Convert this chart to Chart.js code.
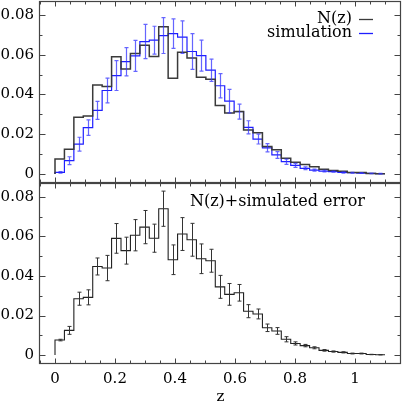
<!DOCTYPE html>
<html><head><meta charset="utf-8">
<script src="https://cdn.jsdelivr.net/npm/chart.js@4"></script>
<style>
html,body{margin:0;padding:0;background:#fff;}
#wrap{position:relative;width:403px;height:404px;overflow:hidden;}
canvas{position:absolute;left:0;}
#c1{top:0;} #c2{top:183px;}
</style></head><body>
<div id="wrap"><canvas id="c1" width="403" height="184"></canvas><canvas id="c2" width="403" height="221"></canvas></div>
<script>
// ---- data ----
const zStart = 0, zEnd = 1.1, nBins = 35;
const nz = [0.0076,0.0125,0.0285,0.0292,0.0448,0.0440,0.0590,0.0528,0.0606,0.0647,
            0.0591,0.0740,0.0482,0.0612,0.0583,0.0487,0.0477,0.0345,0.0307,0.0315,
            0.0222,0.0208,0.0138,0.0122,0.0080,0.0059,0.0048,0.0037,0.0024,0.0018,
            0.0014,0.0008,0.0008,0.0003,0.0002];
const nzErr = [0.0004,0.0020,0.0033,0.0038,0.0043,0.0064,0.0075,0.0068,0.0079,0.0084,
               0.0071,0.0089,0.0075,0.0083,0.0083,0.0075,0.0058,0.0058,0.0055,0.0042,
               0.0033,0.0025,0.0019,0.0017,0.0013,0.0008,0.0006,0.0005,0.0004,0.0003,
               0.0003,0.0002,0.0002,0.0001,0.0001];
const sim = [0.0008,0.0067,0.0150,0.0233,0.0320,0.0420,0.0495,0.0565,0.0594,0.0666,
             0.0673,0.0696,0.0706,0.0688,0.0616,0.0595,0.0522,0.0444,0.0367,0.0314,
             0.0235,0.0176,0.0132,0.0096,0.0062,0.0044,0.0029,0.0020,0.0015,0.0012,
             0.0008,0.0007,0.0005,0.0003,0.0002];
const simErr = [0.0004,0.0020,0.0035,0.0039,0.0045,0.0062,0.0075,0.0071,0.0078,0.0086,
                0.0070,0.0090,0.0074,0.0082,0.0090,0.0078,0.0056,0.0061,0.0059,0.0038,
                0.0033,0.0025,0.0021,0.0017,0.0013,0.0010,0.0007,0.0005,0.0004,0.0003,
                0.0003,0.0002,0.0002,0.0001,0.0001];
const xTicks = [0,0.2,0.4,0.6,0.8,1];
const xTickLabels = ['0','0.2','0.4','0.6','0.8','1'];
const yTicks = [0,0.02,0.04,0.06,0.08];
const yTickLabels = ['0','0.02','0.04','0.06','0.08'];
const legendLabels = ['N(z)','simulation'];
const bottomLabel = 'N(z)+simulated error';
const xTitle = 'z';

// ---- settings ----
const X_MIN = -0.05, X_MAX = 1.1533, Y_MIN = -0.0045, Y_MAX = 0.087;
const X_MINOR = 0.05, Y_MINOR = 0.01;
const FONT = 'DejaVu Serif';
const BLACK_LINE = '#3a3a3a';
const BLUE_LINE = 'rgb(30,30,255)';
const BLUE_ERR = 'rgba(50,50,255,0.75)';

const binW = (zEnd - zStart) / nBins;
function stepPoints(vals) {
  const pts = [{x: zStart, y: 0}];
  vals.forEach((v, i) => pts.push({x: zStart + i * binW, y: v}));
  pts.push({x: zEnd, y: vals[vals.length - 1]});
  return pts;
}

function errPlugin(id, vals, errs, color, width, cap) {
  return { id, afterDatasetsDraw(chart) {
    const {ctx, scales: {x, y}} = chart;
    ctx.save(); ctx.strokeStyle = color; ctx.lineWidth = width;
    vals.forEach((v, i) => {
      const e = errs[i];
      const px = Math.round(x.getPixelForValue(zStart + (i + 0.5) * binW)) + 0.5;
      const y1 = y.getPixelForValue(v - e), y2 = y.getPixelForValue(v + e);
      ctx.beginPath();
      ctx.moveTo(px, y1); ctx.lineTo(px, y2);
      ctx.moveTo(px - cap, y1); ctx.lineTo(px + cap, y1);
      ctx.moveTo(px - cap, y2); ctx.lineTo(px + cap, y2);
      ctx.stroke();
    });
    ctx.restore();
  }};
}

const framePlugin = { id: 'frame', afterDraw(chart) {
  const {ctx, chartArea: a, scales: {x, y}} = chart;
  ctx.save();
  ctx.strokeStyle = '#444'; ctx.lineWidth = 1.2;
  const L = a.left - 0.5, R = a.right - 0.5, T = a.top + 0.5, B = a.bottom - 0.5;
  ctx.strokeRect(L, T, R - L, B - T);
  ctx.lineWidth = 1;
  ctx.beginPath();
  const isMajor = (v, arr) => arr.some(t => Math.abs(t - v) < 1e-6);
  for (let k = Math.ceil(X_MIN / X_MINOR); k * X_MINOR <= X_MAX + 1e-9; k++) {
    const v = k * X_MINOR;
    const px = Math.round(x.getPixelForValue(v)) + 0.5;
    const len = isMajor(v, xTicks) ? 5 : 3;
    ctx.moveTo(px, T); ctx.lineTo(px, T + len);
    ctx.moveTo(px, B); ctx.lineTo(px, B - len);
  }
  for (let k = Math.ceil(Y_MIN / Y_MINOR); k * Y_MINOR <= Y_MAX + 1e-9; k++) {
    const v = k * Y_MINOR;
    const py = Math.round(y.getPixelForValue(v)) + 0.5;
    const len = isMajor(v, yTicks) ? 6 : 3;
    ctx.moveTo(L, py); ctx.lineTo(L + len, py);
    ctx.moveTo(R, py); ctx.lineTo(R - len, py);
  }
  ctx.stroke();
  ctx.restore();
}};

const legendPlugin = { id: 'leg', afterDraw(chart) {
  const {ctx} = chart;
  ctx.save();
  ctx.font = '16px "' + FONT + '"';
  ctx.fillStyle = '#000'; ctx.textAlign = 'right'; ctx.textBaseline = 'middle';
  const rows = [[legendLabels[0], 19, BLACK_LINE], [legendLabels[1], 33, BLUE_LINE]];
  rows.forEach(([t, yy, c]) => {
    ctx.fillText(t, 352, yy);
    ctx.strokeStyle = c; ctx.lineWidth = 1.3;
    ctx.beginPath(); ctx.moveTo(359, yy + 0.5); ctx.lineTo(373, yy + 0.5); ctx.stroke();
  });
  ctx.restore();
}};

const labelPlugin = { id: 'lab', afterDraw(chart) {
  const {ctx} = chart;
  ctx.save();
  ctx.font = '16px "' + FONT + '"';
  ctx.fillStyle = '#000'; ctx.textAlign = 'right'; ctx.textBaseline = 'middle';
  ctx.fillText(bottomLabel, 365, 19);
  ctx.restore();
}};

function yScale() {
  return {
    type: 'linear', min: Y_MIN, max: Y_MAX,
    afterFit: s => { s.width = 40; s.paddingTop = 0; s.paddingBottom = 0; },
    afterBuildTicks: s => { s.ticks = yTicks.map(v => ({value: v})); },
    grid: {display: false, drawTicks: false},
    border: {display: false},
    ticks: {padding: 6, color: '#000', font: {family: FONT, size: 15},
            callback: (v, i) => yTickLabels[i]}
  };
}

new Chart(document.getElementById('c1'), {
  type: 'line',
  data: {datasets: [
    {data: stepPoints(nz), stepped: 'before', borderColor: BLACK_LINE, borderWidth: 1.5, pointRadius: 0, fill: false},
    {data: stepPoints(sim), stepped: 'before', borderColor: BLUE_LINE, borderWidth: 1.2, pointRadius: 0, fill: false}
  ]},
  options: {
    responsive: false, animation: false, events: [],
    layout: {padding: {left: 0, right: 2, top: 1, bottom: 0}},
    plugins: {legend: {display: false}, tooltip: {enabled: false}},
    scales: {
      x: {type: 'linear', min: X_MIN, max: X_MAX,
          afterFit: s => { s.height = 1; s.paddingLeft = 0; s.paddingRight = 0; },
          grid: {display: false, drawTicks: false}, border: {display: false}, ticks: {display: false}},
      y: yScale()
    }
  },
  plugins: [errPlugin('e1', sim, simErr, BLUE_ERR, 1.2, 2), framePlugin, legendPlugin]
});

new Chart(document.getElementById('c2'), {
  type: 'line',
  data: {datasets: [
    {data: stepPoints(nz), stepped: 'before', borderColor: '#222', borderWidth: 1.1, pointRadius: 0, fill: false}
  ]},
  options: {
    responsive: false, animation: false, events: [],
    layout: {padding: {left: 0, right: 2, top: 0, bottom: 0}},
    plugins: {legend: {display: false}, tooltip: {enabled: false}},
    scales: {
      x: {type: 'linear', min: X_MIN, max: X_MAX,
          afterFit: s => { s.height = 40; s.paddingLeft = 0; s.paddingRight = 0; },
          afterBuildTicks: s => { s.ticks = xTicks.map(v => ({value: v})); },
          grid: {display: false, drawTicks: false}, border: {display: false},
          ticks: {padding: 6, color: '#000', maxRotation: 0, font: {family: FONT, size: 15},
                  callback: (v, i) => xTickLabels[i]},
          title: {display: true, text: xTitle, color: '#000', padding: {top: 0, bottom: -1},
                  font: {family: FONT, size: 15, lineHeight: 1}}},
      y: yScale()
    }
  },
  plugins: [errPlugin('e2', nz, nzErr, '#333', 1, 2), framePlugin, labelPlugin]
});
</script>
</body></html>
